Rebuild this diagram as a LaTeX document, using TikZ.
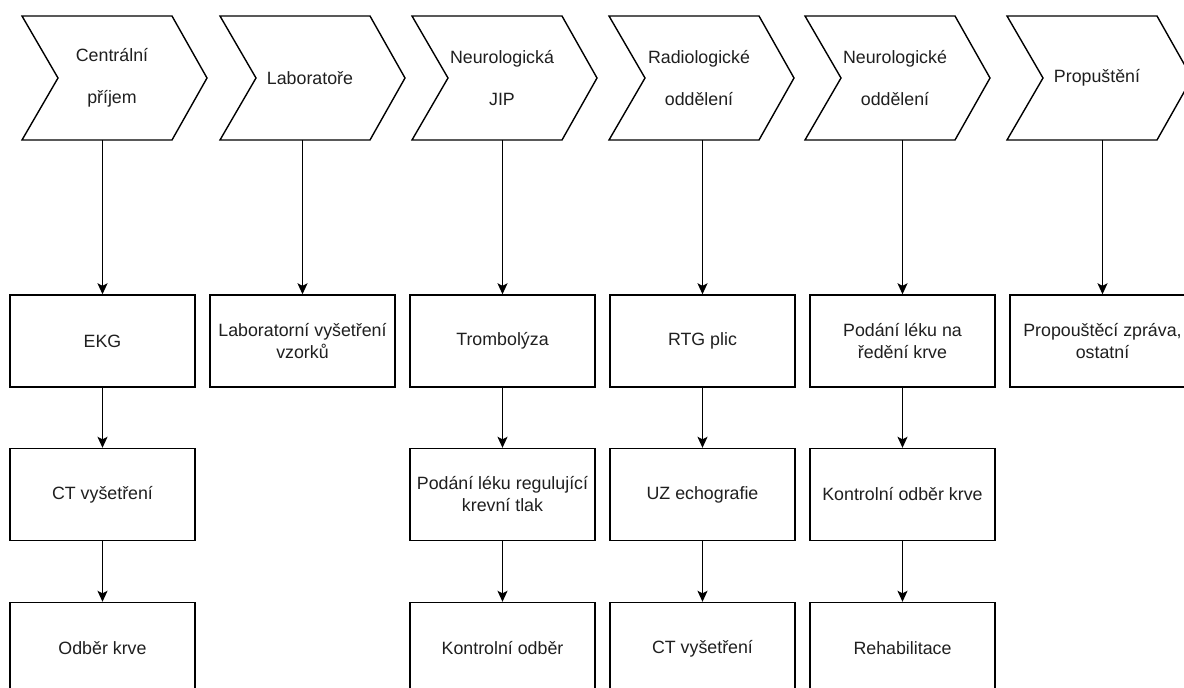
\documentclass[tikz,border=0pt]{standalone}
\usepackage{fontspec}
\setmainfont{Liberation Sans}
\usetikzlibrary{arrows.meta}
\tikzset{
  chev/.style={draw=black, line width=1.4pt, line join=miter},
  chevtext/.style={font=\fontsize{17.8}{42}\selectfont, align=center, text=black!88, inner sep=0pt},
  stepbox/.style={draw=black, line width=1.4pt, minimum width=185pt, minimum height=92pt,
    inner sep=0pt, font=\fontsize{17.8}{22}\selectfont, align=center, text=black!88},
  arr/.style={draw=black, line width=1.4pt, -{Stealth[length=11pt,width=10pt,inset=2.5pt]}},
}
% #1 name, #2 left edge, #3 column axis, #4 label
\newcommand\phasechevron[4]{%
  \draw[chev] (#2,16) -- ++(150,0) -- ++(35,62) -- ++(-35,62) -- ++(-150,0) -- ++(36,-62) -- cycle;
  \node[chevtext] (#1) at (#2+90,78) {#4};
  \coordinate (#1b) at (#3,140);
}
\begin{document}
\begin{tikzpicture}[x=1pt,y=-1pt]
\useasboundingbox (0,0) rectangle (1184,688);
\clip (0,0) rectangle (1184,688);
\fill[white] (0,0) rectangle (1184,688);

% phases
\phasechevron{p1}{22}{102.5}{Centrální\\příjem}
\phasechevron{p2}{220}{302.5}{Laboratoře}
\phasechevron{p3}{412}{502.5}{Neurologická\\JIP}
\phasechevron{p4}{609}{702.5}{Radiologické\\oddělení}
\phasechevron{p5}{805}{902.5}{Neurologické\\oddělení}
\phasechevron{p6}{1007}{1102.5}{Propuštění}

% activities
\node[stepbox] (a11) at (102.5,341) {EKG};
\node[stepbox] (a12) at (102.5,494.5) {CT vyšetření};
\node[stepbox] (a13) at (102.5,648.5) {Odběr krve};

\node[stepbox] (a21) at (302.5,341) {Laboratorní vyšetření\\vzorků};

\node[stepbox] (a31) at (502.5,341) {Trombolýza};
\node[stepbox] (a32) at (502.5,494.5) {Podání léku regulující\\krevní tlak};
\node[stepbox] (a33) at (502.5,648.5) {Kontrolní odběr};

\node[stepbox] (a41) at (702.5,341) {RTG plic};
\node[stepbox] (a42) at (702.5,494.5) {UZ echografie};
\node[stepbox] (a43) at (702.5,648.5) {CT vyšetření};

\node[stepbox] (a51) at (902.5,341) {Podání léku na\\ředění krve};
\node[stepbox] (a52) at (902.5,494.5) {Kontrolní odběr krve};
\node[stepbox] (a53) at (902.5,648.5) {Rehabilitace};

\node[stepbox] (a61) at (1102.5,341) {Propouštěcí zpráva,\\ostatní};

% flow
\draw[arr] (p1b) -- (a11);
\draw[arr] (a11) -- (a12);
\draw[arr] (a12) -- (a13);
\draw[arr] (p2b) -- (a21);
\draw[arr] (p3b) -- (a31);
\draw[arr] (a31) -- (a32);
\draw[arr] (a32) -- (a33);
\draw[arr] (p4b) -- (a41);
\draw[arr] (a41) -- (a42);
\draw[arr] (a42) -- (a43);
\draw[arr] (p5b) -- (a51);
\draw[arr] (a51) -- (a52);
\draw[arr] (a52) -- (a53);
\draw[arr] (p6b) -- (a61);
\end{tikzpicture}
\end{document}
